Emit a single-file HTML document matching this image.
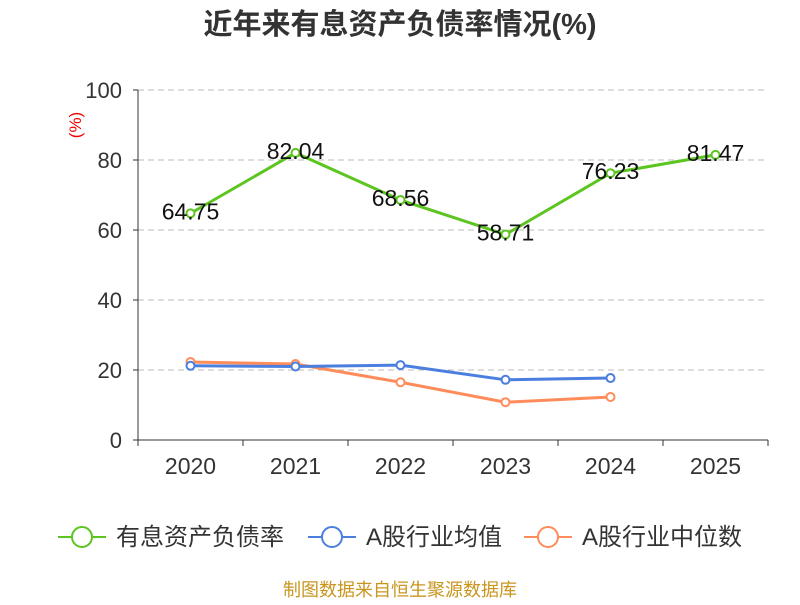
<!DOCTYPE html>
<html><head><meta charset="utf-8"><style>
body{margin:0;background:#fff;}
svg text{font-family:"Liberation Sans","Noto Sans CJK SC",sans-serif;}
</style></head><body>
<svg width="800" height="600" xmlns="http://www.w3.org/2000/svg" id="chart">
<text x="400" y="34" text-anchor="middle" font-size="29" font-weight="bold" fill="#333">近年来有息资产负债率情况(%)</text>
<text transform="translate(81,125) rotate(-90)" text-anchor="middle" font-size="17" fill="#e00">(%)</text>
<g id="grid"></g><g id="axes"></g><g id="series"></g>
<g>
<g><line x1="58" y1="537" x2="106" y2="537" stroke="#5cc51f" stroke-width="2"/><circle cx="82" cy="537" r="10" fill="#fff" stroke="#5cc51f" stroke-width="2"/><text x="116" y="545" font-size="24" fill="#333">有息资产负债率</text></g>
<g><line x1="308" y1="537" x2="356" y2="537" stroke="#4a7fe0" stroke-width="2"/><circle cx="332" cy="537" r="10" fill="#fff" stroke="#4a7fe0" stroke-width="2"/><text x="366" y="545" font-size="24" fill="#333">A股行业均值</text></g>
<g><line x1="524" y1="537" x2="572" y2="537" stroke="#ff8c5a" stroke-width="2"/><circle cx="548" cy="537" r="10" fill="#fff" stroke="#ff8c5a" stroke-width="2"/><text x="582" y="545" font-size="24" fill="#333">A股行业中位数</text></g>
</g>
<text x="400" y="596" text-anchor="middle" font-size="18" fill="#c8961e">制图数据来自恒生聚源数据库</text>
</svg>
<script>
const categories=["2020","2021","2022","2023","2024","2025"];
const debtRatio=[64.75,82.04,68.56,58.71,76.23,81.47];
const industryMean=[21.2,21.0,21.4,17.2,17.7];
const industryMedian=[22.3,21.7,16.5,10.8,12.3];
const yTicks=[0,20,40,60,80,100];
const NS="http://www.w3.org/2000/svg";
const X0=138,X1=768,Y0=440,Y1=90;
const bw=(X1-X0)/categories.length;
const xs=i=>X0+bw*(i+0.5);
const ys=v=>Y0-(v/100)*(Y0-Y1);
function mk(tag,attrs,parent){const e=document.createElementNS(NS,tag);for(const k in attrs)e.setAttribute(k,attrs[k]);parent.appendChild(e);return e;}
const grid=document.getElementById('grid'),axes=document.getElementById('axes'),ser=document.getElementById('series');
yTicks.forEach(t=>{
 if(t>0){const l=mk('line',{x1:X0,x2:X1,y1:ys(t),y2:ys(t),stroke:'#bbb','stroke-dasharray':'6,4'},grid);
 
 }
 const tx=mk('text',{x:122,y:ys(t)+8,'text-anchor':'end','font-size':'22',fill:'#333'},axes);tx.textContent=t;
 
 
});
const ya=mk('line',{x1:X0,x2:X0,y1:Y1,y2:Y0,stroke:'#333'},axes);


const xa=mk('line',{x1:X0,x2:X1,y1:Y0,y2:Y0,stroke:'#333'},axes);


yTicks.forEach(t=>{mk('line',{x1:X0-5,x2:X0,y1:ys(t),y2:ys(t),stroke:'#333'},axes);});
for(let i=0;i<=categories.length;i++)mk('line',{x1:X0+bw*i,x2:X0+bw*i,y1:Y0,y2:Y0+6,stroke:'#333'},axes);
categories.forEach((c,i)=>{const t=mk('text',{x:xs(i),y:474,'text-anchor':'middle','font-size':'23',fill:'#333'},axes);t.textContent=c;
 
 });
function series(vals,color,name,labels){
 const g=mk('g',{},ser);
 
 
 mk('polyline',{points:vals.map((v,i)=>xs(i)+','+ys(v)).join(' '),fill:'none',stroke:color,'stroke-width':3},g);
 vals.forEach((v,i)=>{const c=mk('circle',{cx:xs(i),cy:ys(v),r:4,fill:'#fff',stroke:color,'stroke-width':2},g);
  
  
  if(labels){const t=mk('text',{x:xs(i),y:ys(v)+6,'text-anchor':'middle','font-size':'23',fill:'#111'},g);t.textContent=v.toFixed(2);
   
   }});
}
series(industryMedian,'#ff8c5a','industry-median-series',false);
series(industryMean,'#4a7fe0','industry-mean-series',false);
series(debtRatio,'#5cc51f','debt-ratio-series',true);
</script>
</body></html>
